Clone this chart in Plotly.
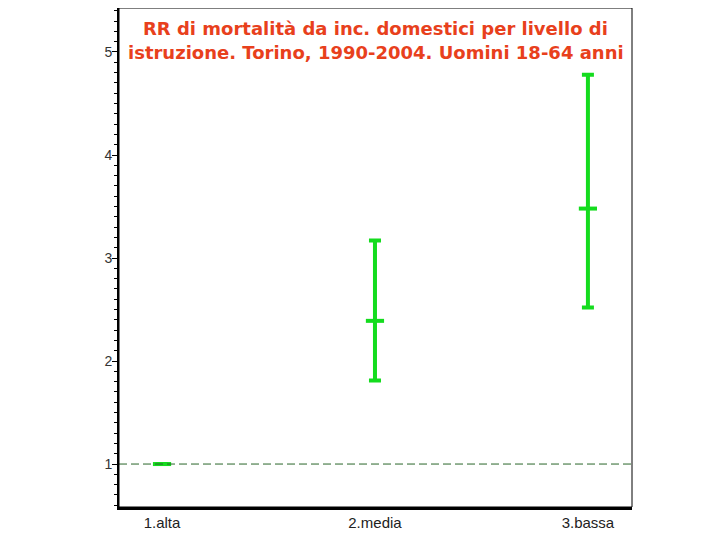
import plotly.graph_objects as go

categories = ["1.alta", "2.media", "3.bassa"]
rr = [1.0, 2.39, 3.48]
ci_low = [1.0, 1.81, 2.52]
ci_high = [1.0, 3.17, 4.78]
y_ticks = [1, 2, 3, 4, 5]
title_lines = ["RR di mortalità da inc. domestici per livello di",
               "istruzione. Torino, 1990-2004. Uomini 18-64 anni"]

green = "#14dc1e"
xpos = list(range(len(categories)))

fig = go.Figure()
fig.add_trace(go.Scatter(
    x=xpos, y=rr, mode="markers",
    marker=dict(symbol="line-ew", size=13, line=dict(width=4, color=green), color=green),
    error_y=dict(type="data", symmetric=False,
                 array=[h - r for h, r in zip(ci_high, rr)],
                 arrayminus=[r - l for r, l in zip(rr, ci_low)],
                 color=green, thickness=4, width=6),
    showlegend=False, hoverinfo="skip"))

fig.add_shape(type="line", xref="paper", x0=0, x1=1, yref="y", y0=1, y1=1,
              line=dict(color="#2a662a", width=1, dash="8px,4px"))
fig.add_shape(type="rect", xref="paper", yref="paper", x0=0, x1=1, y0=0, y1=1,
              line=dict(color="black", width=1), layer="above")

for i, line in enumerate(title_lines):
    fig.add_annotation(text=line, xref="paper", yref="paper",
                       x=0.5, y=1 - (20 + 25 * i) / 499, xanchor="center", yanchor="middle",
                       showarrow=False,
                       font=dict(family="DejaVu Sans", size=18, color="#e8401c", weight="bold"))

fig.update_layout(
    width=712, height=532,
    margin=dict(l=111, r=88, t=0, b=33),
    paper_bgcolor="white", plot_bgcolor="white",
    xaxis=dict(range=[-0.202, 2.207], tickvals=xpos, ticktext=categories,
               showgrid=False, zeroline=False, showline=True, linecolor="black",
               linewidth=3, ticks="", ticklen=0,
               tickfont=dict(family="Liberation Sans", size=15, color="#222")),
    yaxis=dict(range=[0.583, 5.427], tickvals=y_ticks,
               showgrid=False, zeroline=False, showline=True, linecolor="black",
               linewidth=2, ticks="outside", ticklen=5, tickcolor="black", tickwidth=1,
               ticklabelstandoff=-3,
               tickfont=dict(family="Liberation Sans", size=14, color="#333"),
               minor=dict(dtick=0.1, ticks="outside", ticklen=3, tickcolor="black",
                          tickwidth=1)),
)

fig.write_html("out.html")
